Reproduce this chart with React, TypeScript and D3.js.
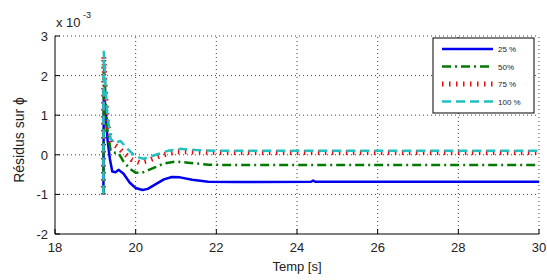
import React from "react";
import * as d3 from "d3";

// Résidus sur phi (x 10^-3) vs temps
const t25 = [19.2, 19.21, 19.25, 19.3, 19.36, 19.42, 19.5, 19.58, 19.7, 19.85, 20.0, 20.17, 20.3, 20.5, 20.7, 20.9, 21.1, 21.4, 21.8, 22.5, 24.35, 24.4, 24.45, 26, 28, 30];
const v25 = [-1, 1.62, 1.2, 0.4, -0.1, -0.42, -0.44, -0.38, -0.48, -0.7, -0.84, -0.89, -0.86, -0.74, -0.62, -0.56, -0.57, -0.63, -0.68, -0.69, -0.68, -0.65, -0.68, -0.68, -0.68, -0.68];

const t50 = [19.2, 19.21, 19.25, 19.3, 19.38, 19.45, 19.57, 19.7, 19.85, 20.0, 20.15, 20.4, 20.7, 21.0, 21.3, 21.8, 22.5, 30];
const v50 = [-1, 2.3, 1.5, 0.6, 0.1, 0.05, 0.05, -0.17, -0.35, -0.45, -0.46, -0.35, -0.22, -0.17, -0.2, -0.25, -0.26, -0.26];

const t75 = [19.2, 19.21, 19.25, 19.3, 19.4, 19.55, 19.7, 19.9, 20.1, 20.3, 20.6, 21.0, 21.4, 22, 30];
const v75 = [-1, 2.5, 1.6, 0.8, 0.3, 0.2, 0.05, -0.12, -0.2, -0.15, -0.03, 0.08, 0.07, 0.06, 0.06];

const t100 = [19.2, 19.21, 19.25, 19.3, 19.38, 19.5, 19.62, 19.8, 20.0, 20.2, 20.5, 20.8, 21.1, 21.5, 22, 30];
const v100 = [-1, 2.6, 1.8, 1.0, 0.4, 0.3, 0.35, 0.15, -0.05, -0.1, 0.0, 0.1, 0.15, 0.12, 0.1, 0.1];

const xTicks = [18, 20, 22, 24, 26, 28, 30];
const yTicks = [-2, -1, 0, 1, 2, 3];

const series = [
  { label: "25 %", t: t25, v: v25, color: "#0000ee", dash: "none", width: 2.5 },
  { label: "50%", t: t50, v: v50, color: "#007a00", dash: "9,4,2,4", width: 2.5 },
  { label: "75 %", t: t75, v: v75, color: "#e01010", dash: "1.5,5.5", width: 5 },
  { label: "100 %", t: t100, v: v100, color: "#22c0c0", dash: "9,5", width: 2.5 },
];

const W = 547;
const H = 280;
const margin = { top: 36, right: 8, bottom: 46, left: 55 };

const App = () => {
  const x = d3.scaleLinear().domain([18, 30]).range([margin.left, W - margin.right]);
  const y = d3.scaleLinear().domain([-2, 3]).range([H - margin.bottom, margin.top]);
  const font = "'Liberation Sans', Arial, sans-serif";

  const line = d3
    .line<[number, number]>()
    .x((d) => x(d[0]))
    .y((d) => y(d[1]));

  const legX = 433;
  const legY = 38;
  const legW = 101;
  const legH = 75;

  return (
    <svg
      width={W}
      height={H}
      style={{ position: "absolute", left: 0, top: 0, background: "#fff" }}
    >
      {/* grid */}
      {xTicks.slice(1).map((t) => (
        <line
          key={"gx" + t}
          x1={x(t)}
          x2={x(t)}
          y1={y(-2)}
          y2={y(3)}
          stroke="#444"
          strokeWidth={1}
          strokeDasharray="1,3"
        />
      ))}
      {yTicks.slice(1).map((t) => (
        <line
          key={"gy" + t}
          x1={x(18)}
          x2={x(30)}
          y1={y(t)}
          y2={y(t)}
          stroke="#444"
          strokeWidth={1}
          strokeDasharray="1,3"
        />
      ))}

      {/* axes */}
      <line x1={x(18)} x2={x(18)} y1={y(-2)} y2={y(3)} stroke="#000" />
      <line x1={x(18)} x2={x(30)} y1={y(-2)} y2={y(-2)} stroke="#000" />
      {xTicks.map((t) => (
        <g key={"xt" + t}>
          <line x1={x(t)} x2={x(t)} y1={y(-2)} y2={y(-2) - 5} stroke="#000" />
          <text
            x={x(t)}
            y={y(-2) + 18}
            textAnchor="middle"
            fontFamily={font}
            fontSize={13}
            fill="#222"
          >
            {t}
          </text>
        </g>
      ))}
      {yTicks.map((t) => (
        <g key={"yt" + t}>
          <line x1={x(18)} x2={x(18) + 5} y1={y(t)} y2={y(t)} stroke="#000" />
          <text
            x={x(18) - 7}
            y={y(t) + 5}
            textAnchor="end"
            fontFamily={font}
            fontSize={13}
            fill="#222"
          >
            {t}
          </text>
        </g>
      ))}

      {/* exponent */}
      <text x={x(18) + 1} y={27} fontFamily={font} fontSize={13} fill="#222">
        x 10
      </text>
      <text x={x(18) + 28} y={18} fontFamily={font} fontSize={9} fill="#222">
        -3
      </text>

      {/* labels */}
      <text
        x={(x(18) + x(30)) / 2}
        y={271}
        textAnchor="middle"
        fontFamily={font}
        fontSize={13}
        fill="#222"
      >
        Temp [s]
      </text>
      <text
        transform={`translate(24,140) rotate(-90)`}
        textAnchor="middle"
        fontFamily={font}
        fontSize={14}
        fill="#222"
      >
        Résidus sur ϕ
      </text>

      {/* series */}
      {series.map((s) => (
        <path
          key={s.label}
          d={line(s.t.map((t, i) => [t, s.v[i]] as [number, number])) || ""}
          fill="none"
          stroke={s.color}
          strokeWidth={s.width}
          strokeDasharray={s.dash}
          strokeLinejoin="round"
        />
      ))}

      {/* legend */}
      <rect x={legX} y={legY} width={legW} height={legH} fill="#fff" stroke="#000" />
      {series.map((s, i) => {
        const ly = legY + 11 + i * 17.5;
        return (
          <g key={"leg" + s.label}>
            <line
              x1={legX + 9}
              x2={legX + 60}
              y1={ly}
              y2={ly}
              stroke={s.color}
              strokeWidth={s.width}
              strokeDasharray={s.dash}
            />
            <text
              x={legX + 65}
              y={ly + 3}
              fontFamily={font}
              fontSize={8}
              fill="#222"
            >
              {s.label}
            </text>
          </g>
        );
      })}
    </svg>
  );
};

export default App;
